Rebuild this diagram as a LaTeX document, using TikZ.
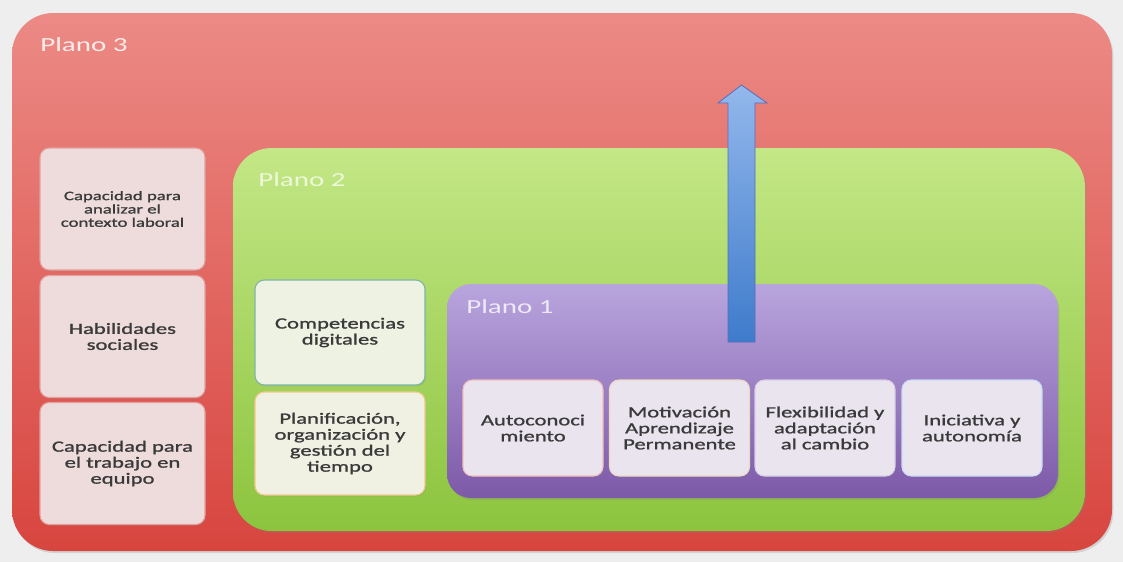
\documentclass[tikz,border=0pt]{standalone}
\usepackage{fontspec}
\setmainfont{Carlito}[FakeStretch=1.45]
\newfontfamily\boxfont{Carlito}[FakeStretch=1.45, FakeBold=1.2]
\usetikzlibrary{shadows}
\definecolor{bg}{HTML}{EEEEEE}
\definecolor{redtop}{HTML}{EC8A85}
\definecolor{redbot}{HTML}{D8453F}
\definecolor{grntop}{HTML}{C3E786}
\definecolor{grnbot}{HTML}{8CC43E}
\definecolor{purtop}{HTML}{B9A5DE}
\definecolor{purbot}{HTML}{7D59A8}
\definecolor{txt}{HTML}{3A3A3A}
\definecolor{boxred}{HTML}{EEDCDC}
\definecolor{boxgrn}{HTML}{EEF2E3}
\definecolor{boxyel}{HTML}{F0F1E2}
\definecolor{boxpur}{HTML}{E9E4EE}
\definecolor{tealb}{HTML}{7FB6A8}
\definecolor{orangeb}{HTML}{F3C98F}
\definecolor{arrtop}{HTML}{93B8EC}
\definecolor{arrbot}{HTML}{3E7BCB}
\begin{document}
\begin{tikzpicture}[x=0.75pt,y=-0.75pt,
  plane/.style={draw=none, inner sep=0pt, drop shadow={opacity=0.25,shadow xshift=1pt,shadow yshift=-1.5pt}},
  planelabel/.style={font=\fontsize{15}{17}\selectfont, anchor=west, inner sep=0pt},
  cbox/.style={rounded corners=7pt, inner sep=2pt, align=center, text=txt,
    line width=0.8pt, drop shadow={opacity=0.2,shadow xshift=0.8pt,shadow yshift=-1pt}},
  redbox/.style={cbox, fill=boxred, draw=redbot!40!boxred, minimum width=123.75pt, minimum height=91.5pt},
  grnbox/.style={cbox, fill=boxgrn, minimum width=127.5pt},
  purbox/.style={cbox, fill=boxpur, minimum width=105pt, minimum height=72pt},
  bigtext/.style={font=\boxfont\fontsize{11.7}{12}\selectfont},
  smalltext/.style={font=\boxfont\fontsize{9.7}{10}\selectfont}
]
\useasboundingbox (0,0) rectangle (1123,562);
\fill[bg] (0,0) rectangle (1123,562);

% Plano 3
\node[plane, rounded corners=31pt, top color=redtop, bottom color=redbot,
  minimum width=825pt, minimum height=403.5pt] (p3) at (562,282) {};
\node[planelabel, text=white!85!redtop] (p3l) at (40,45) {Plano 3};

% Plano 2
\node[plane, rounded corners=29pt, top color=grntop, bottom color=grnbot,
  minimum width=639pt, minimum height=287.25pt] (p2) at (659,339.5) {};
\node[planelabel, text=white!70!grntop] (p2l) at (258,180) {Plano 2};

% Plano 1
\node[plane, rounded corners=18pt, top color=purtop, bottom color=purbot,
  minimum width=458.25pt, minimum height=160.5pt] (p1) at (752.5,391) {};
\node[planelabel, text=white!75!purtop] (p1l) at (466,307) {Plano 1};

% Left boxes (Plano 3)
\node[redbox, smalltext] (b1) at (122.5,209) {Capacidad para\\analizar el\\contexto laboral};
\node[redbox, bigtext] (b2) at (122.5,336.5) {Habilidades\\sociales};
\node[redbox, bigtext] (b3) at (122.5,463.5) {Capacidad para\\el trabajo en\\equipo};

% Plano 2 boxes
\node[grnbox, bigtext, draw=tealb, minimum height=78.75pt] (g1) at (340,332.5) {Competencias\\digitales};
\node[grnbox, bigtext, fill=boxyel, draw=orangeb, minimum height=77.25pt] (g2) at (340,443.5) {Planificación,\\organización y\\gestión del\\tiempo};

% Plano 1 boxes
\node[purbox, bigtext, draw=redbot!35!white] (q1) at (533,428) {Autoconoci\\miento};
\node[purbox, bigtext, draw=brown!30!white] (q2) at (679.5,428) {Motivación\\Aprendizaje\\Permanente};
\node[purbox, bigtext, draw=purbot!30!white] (q3) at (825,428) {Flexibilidad y\\adaptación\\al cambio};
\node[purbox, bigtext, draw=arrtop!50!white] (q4) at (972,428) {Iniciativa y\\autonomía};

% Arrow
\shade[top color=arrtop, bottom color=arrbot, draw=arrbot!60!purbot, line width=0.6pt]
  (728,342) -- (728,103) -- (718,103) -- (741.5,85) -- (767,103) -- (755,103) -- (755,342) -- cycle;
\end{tikzpicture}
\end{document}
